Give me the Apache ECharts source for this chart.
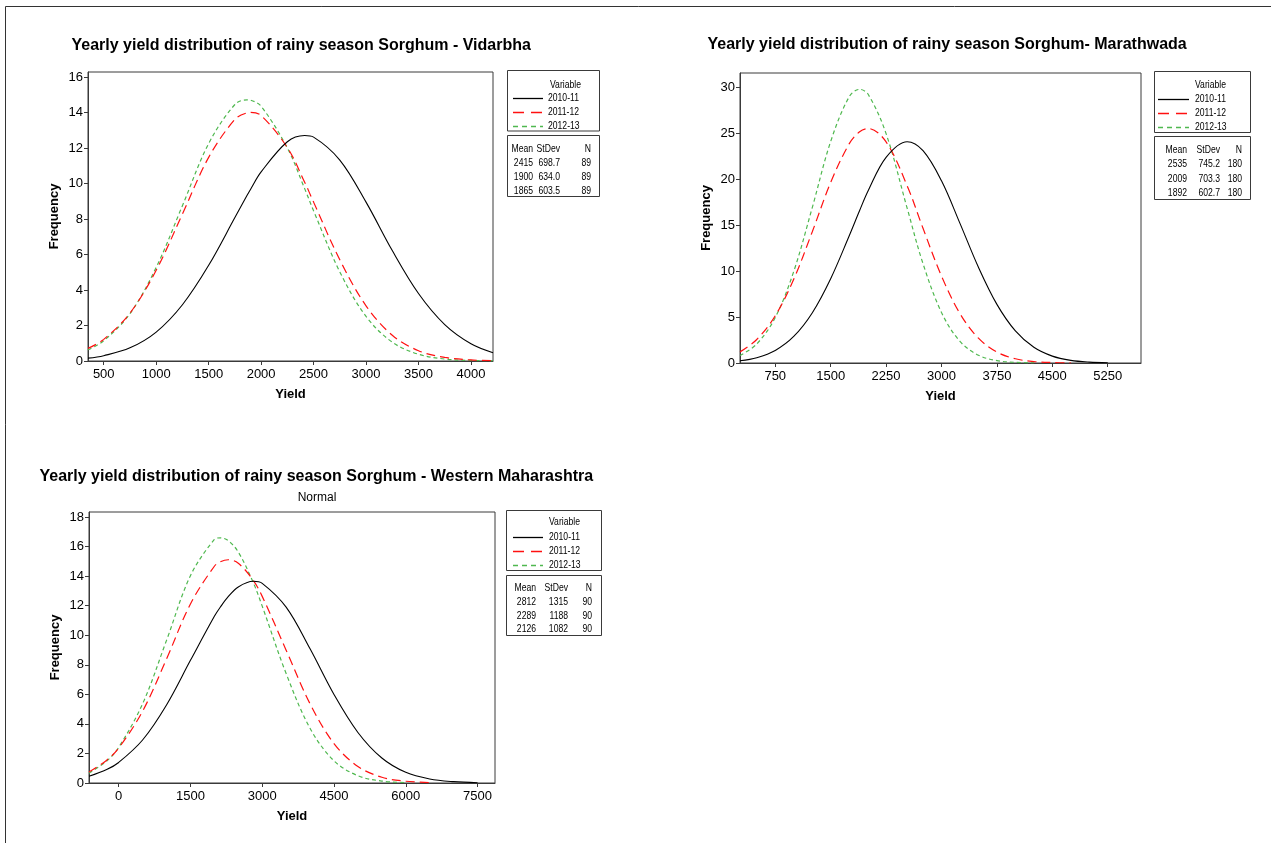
<!DOCTYPE html>
<html><head><meta charset="utf-8">
<script src="https://cdn.jsdelivr.net/npm/echarts@6/dist/echarts.min.js"></script>
<style>html,body{margin:0;padding:0;background:#fff}#c{width:1271px;height:843px}</style>
</head><body><div id="c"></div><script>
// ---------- DATA ----------
const years = ['2010-11', '2011-12', '2012-13'];
const statHeader = ['Mean', 'StDev', 'N'];

// Vidarbha
const vidTitle = 'Yearly yield distribution of rainy season Sorghum - Vidarbha';
const vidX    = [350, 500, 750, 1000, 1250, 1500, 1750, 1865, 1900, 2000, 2250, 2415, 2500, 2750, 3000, 3250, 3500, 3750, 4000, 4210];
const vid2010 = [0.16, 0.30, 0.74, 1.63, 3.17, 5.39, 8.08, 9.32, 9.68, 10.65, 12.35, 12.70, 12.61, 11.32, 8.95, 6.22, 3.80, 2.05, 0.97, 0.47];
const vid2011 = [0.71, 1.22, 2.70, 5.11, 8.28, 11.47, 13.61, 13.98, 14.00, 13.83, 12.02, 10.07, 8.95, 5.70, 3.11, 1.45, 0.58, 0.20, 0.06, 0.02];
const vid2012 = [0.63, 1.14, 2.67, 5.27, 8.75, 12.25, 14.45, 14.71, 14.69, 14.35, 12.00, 9.71, 8.46, 5.02, 2.51, 1.06, 0.38, 0.11, 0.03, 0.01];
const vidMean = ['2415', '1900', '1865'];
const vidSd   = ['698.7', '634.0', '603.5'];
const vidN    = ['89', '89', '89'];
const vidXTicks = [500, 1000, 1500, 2000, 2500, 3000, 3500, 4000];
const vidYTicks = [0, 2, 4, 6, 8, 10, 12, 14, 16];

// Marathwada
const marTitle = 'Yearly yield distribution of rainy season Sorghum- Marathwada';
const marX    = [273, 500, 750, 1000, 1250, 1500, 1750, 1892, 2009, 2250, 2535, 2750, 3000, 3250, 3500, 3750, 4000, 4250, 4500, 4750, 5000, 5250];
const mar2010 = [0.24, 0.58, 1.37, 2.89, 5.45, 9.18, 13.83, 16.60, 18.78, 22.39, 24.09, 23.11, 19.83, 15.20, 10.42, 6.38, 3.49, 1.71, 0.75, 0.29, 0.10, 0.03];
const mar2011 = [1.21, 2.56, 5.14, 9.12, 14.26, 19.65, 23.85, 25.18, 25.53, 24.07, 19.30, 14.66, 9.46, 5.38, 2.70, 1.19, 0.46, 0.16, 0.05, 0.01, null, null];
const mar2012 = [0.81, 2.07, 4.95, 9.96, 16.89, 24.11, 28.97, 29.79, 29.23, 24.97, 16.86, 10.81, 5.50, 2.35, 0.85, 0.26, 0.07, 0.01, null, null, null, null];
const marMean = ['2535', '2009', '1892'];
const marSd   = ['745.2', '703.3', '602.7'];
const marN    = ['180', '180', '180'];
const marXTicks = [750, 1500, 2250, 3000, 3750, 4500, 5250];
const marYTicks = [0, 5, 10, 15, 20, 25, 30];

// Western Maharashtra
const wmTitle = 'Yearly yield distribution of rainy season Sorghum - Western Maharashtra';
const wmSubtitle = 'Normal';
const wmX    = [-620, -250, 0, 500, 1000, 1500, 2000, 2126, 2289, 2500, 2812, 3000, 3500, 4000, 4500, 5000, 5500, 6000, 6500, 7000, 7500];
const wm2010 = [0.45, 0.91, 1.39, 2.91, 5.28, 8.30, 11.28, 11.91, 12.61, 13.27, 13.65, 13.51, 11.90, 9.08, 5.99, 3.42, 1.69, 0.72, 0.27, 0.09, 0.02];
const wm2011 = [0.75, 1.54, 2.36, 4.86, 8.39, 12.12, 14.67, 14.97, 15.11, 14.87, 13.72, 12.63, 8.99, 5.36, 2.67, 1.12, 0.39, 0.12, 0.03, null, null];
const wm2012 = [0.66, 1.49, 2.41, 5.36, 9.65, 14.03, 16.48, 16.59, 16.40, 15.63, 13.57, 11.97, 7.41, 3.70, 1.50, 0.49, 0.13, 0.03, null, null, null];
const wmMean = ['2812', '2289', '2126'];
const wmSd   = ['1315', '1188', '1082'];
const wmN    = ['90', '90', '90'];
const wmXTicks = [0, 1500, 3000, 4500, 6000, 7500];
const wmYTicks = [0, 2, 4, 6, 8, 10, 12, 14, 16, 18];

// ---------- LAYOUT / STYLE ----------
const FONT = '"Liberation Sans", Arial, sans-serif';
const LG_SIZE = 10.5;      // legend-box text size
const LG_SX = 0.82;        // horizontal squeeze of legend-box text (narrow look)

const AX = '#3a3a3a';
const lineColors = ['#000000', '#ff1010', '#4fb84f'];
const lineDashes = [null, [9, 5], [4, 3]];
const legendDashes = [null, [11, 7], [5, 4]];

const panels = [
  {
    title: vidTitle, titleX: 71.5, titleY: 46,
    x: vidX, ys: [vid2010, vid2011, vid2012], stats: [vidMean, vidSd, vidN],
    xTicks: vidXTicks, yTicks: vidYTicks,
    grid: { left: 88, top: 72, width: 405, height: 289 },
    xMin: 350, xMax: 4210, yMax: 16.28,
    lg: { x: 507.5, w: 92, y1: 70.5, h1: 60.5, y2: 135.5, h2: 61, varX: 550, varY: 85,
          rowY: [98, 112, 126], lineX: [513, 543], nameX: 548, hdrY: 149, statY: [163, 177, 191], colR: [533, 560, 591] }
  },
  {
    title: marTitle, titleX: 707.5, titleY: 45,
    x: marX, ys: [mar2010, mar2011, mar2012], stats: [marMean, marSd, marN],
    xTicks: marXTicks, yTicks: marYTicks,
    grid: { left: 740, top: 73, width: 401, height: 290 },
    xMin: 273, xMax: 5700, yMax: 31.57,
    lg: { x: 1154.5, w: 96, y1: 71.5, h1: 61, y2: 136.5, h2: 63, varX: 1195, varY: 85,
          rowY: [99, 113, 127], lineX: [1158, 1189], nameX: 1195, hdrY: 150, statY: [164.5, 179, 193.5], colR: [1187, 1220, 1242] }
  },
  {
    title: wmTitle, titleX: 39.5, titleY: 477, subtitle: wmSubtitle, subX: 317, subY: 498,
    x: wmX, ys: [wm2010, wm2011, wm2012], stats: [wmMean, wmSd, wmN],
    xTicks: wmXTicks, yTicks: wmYTicks,
    grid: { left: 89, top: 512, width: 406, height: 271 },
    xMin: -620, xMax: 7865, yMax: 18.34,
    lg: { x: 506.5, w: 95, y1: 510.5, h1: 60, y2: 575.5, h2: 60, varX: 549, varY: 522,
          rowY: [537, 551, 565], lineX: [513, 543], nameX: 549, hdrY: 588, statY: [602, 616, 629], colR: [536, 568, 592] }
  }
];

const grids = [], xAxes = [], yAxes = [], series = [], graphics = [];
let gid = 0;

function txt(text, x, y, size, weight, align, sx) {
  return {
    type: 'text', id: 'g' + (gid++), silent: true,
    x: x, y: y, scaleX: sx || 1, scaleY: 1,
    style: { text: text, x: 0, y: 0, fontFamily: FONT, fontSize: size, fontWeight: weight || 'normal',
             fill: '#000', align: align || 'left', textAlign: align || 'left',
             verticalAlign: 'middle', textVerticalAlign: 'middle' }
  };
}
const plain = v => String(v);

panels.forEach((p, i) => {
  grids.push(Object.assign({ show: true, borderColor: AX, borderWidth: 1, containLabel: false }, p.grid));
  xAxes.push({
    type: 'value', gridIndex: i, min: p.xMin, max: p.xMax,
    name: 'Yield', nameLocation: 'middle', nameGap: 27,
    nameTextStyle: { fontFamily: FONT, fontWeight: 'bold', fontSize: 13, color: '#000' },
    axisLine: { show: true, onZero: false, lineStyle: { color: AX, width: 1 } },
    axisTick: { show: true, length: 4, customValues: p.xTicks, lineStyle: { color: AX } },
    axisLabel: { customValues: p.xTicks, formatter: plain, fontFamily: FONT, fontSize: 13, color: '#000', margin: 7 },
    splitLine: { show: false }
  });
  yAxes.push({
    type: 'value', gridIndex: i, min: 0, max: p.yMax,
    name: 'Frequency', nameLocation: 'middle', nameGap: 27,
    nameTextStyle: { fontFamily: FONT, fontWeight: 'bold', fontSize: 13, color: '#000' },
    axisLine: { show: true, onZero: false, lineStyle: { color: AX, width: 1 } },
    axisTick: { show: true, length: 4, customValues: p.yTicks, lineStyle: { color: AX } },
    axisLabel: { customValues: p.yTicks, formatter: plain, fontFamily: FONT, fontSize: 13, color: '#000', margin: 5 },
    splitLine: { show: false }
  });
  p.ys.forEach((ys, k) => {
    const data = [];
    p.x.forEach((xv, j) => { if (ys[j] !== null && ys[j] !== undefined) data.push([xv, ys[j]]); });
    series.push({
      type: 'line', name: years[k], xAxisIndex: i, yAxisIndex: i, data: data,
      smooth: 0.35, showSymbol: false, symbol: 'none', silent: true,
      lineStyle: { color: lineColors[k], type: lineDashes[k] ? lineDashes[k].slice() : 'solid', width: k === 0 ? 1.1 : 1.2 },
      z: 3 - k
    });
  });

  // titles
  graphics.push(txt(p.title, p.titleX, p.titleY, 16, 'bold', 'left'));
  if (p.subtitle) graphics.push(txt(p.subtitle, p.subX, p.subY, 12, 'normal', 'center'));

  // legend boxes
  const L = p.lg;
  graphics.push({ type: 'rect', id: 'g' + (gid++), silent: true, shape: { x: L.x, y: L.y1, width: L.w, height: L.h1 },
                  style: { fill: 'none', stroke: AX, lineWidth: 1 } });
  graphics.push({ type: 'rect', id: 'g' + (gid++), silent: true, shape: { x: L.x, y: L.y2, width: L.w, height: L.h2 },
                  style: { fill: 'none', stroke: AX, lineWidth: 1 } });
  graphics.push(txt('Variable', L.varX, L.varY, LG_SIZE, 'normal', 'left', LG_SX));
  years.forEach((y, k) => {
    graphics.push({ type: 'line', id: 'g' + (gid++), silent: true, z: 10,
      shape: { x1: L.lineX[0], y1: L.rowY[k] + 0.5, x2: L.lineX[1], y2: L.rowY[k] + 0.5 },
      style: { stroke: lineColors[k], lineWidth: 1.3, lineDash: legendDashes[k] ? legendDashes[k].slice() : null } });
    graphics.push(txt(y, L.nameX, L.rowY[k], LG_SIZE, 'normal', 'left', LG_SX));
  });
  statHeader.forEach((h, c) => graphics.push(txt(h, L.colR[c], L.hdrY, LG_SIZE, 'normal', 'right', LG_SX)));
  for (let r = 0; r < 3; r++) {
    for (let c = 0; c < 3; c++) {
      graphics.push(txt(p.stats[c][r], L.colR[c], L.statY[r], LG_SIZE, 'normal', 'right', LG_SX));
    }
  }
});

// outer frame lines
graphics.push({ type: 'line', id: 'g' + (gid++), silent: true, shape: { x1: 5.5, y1: 6.5, x2: 1271, y2: 6.5 }, style: { stroke: '#333', lineWidth: 1 } });
graphics.push({ type: 'line', id: 'g' + (gid++), silent: true, shape: { x1: 5.5, y1: 6.5, x2: 5.5, y2: 843 }, style: { stroke: '#333', lineWidth: 1 } });

const chart = echarts.init(document.getElementById('c'), null, { renderer: 'canvas' });
chart.setOption({
  animation: false,
  backgroundColor: '#ffffff',
  textStyle: { fontFamily: FONT },
  grid: grids,
  xAxis: xAxes,
  yAxis: yAxes,
  series: series,
  graphic: { elements: graphics }
});
</script></body></html>
